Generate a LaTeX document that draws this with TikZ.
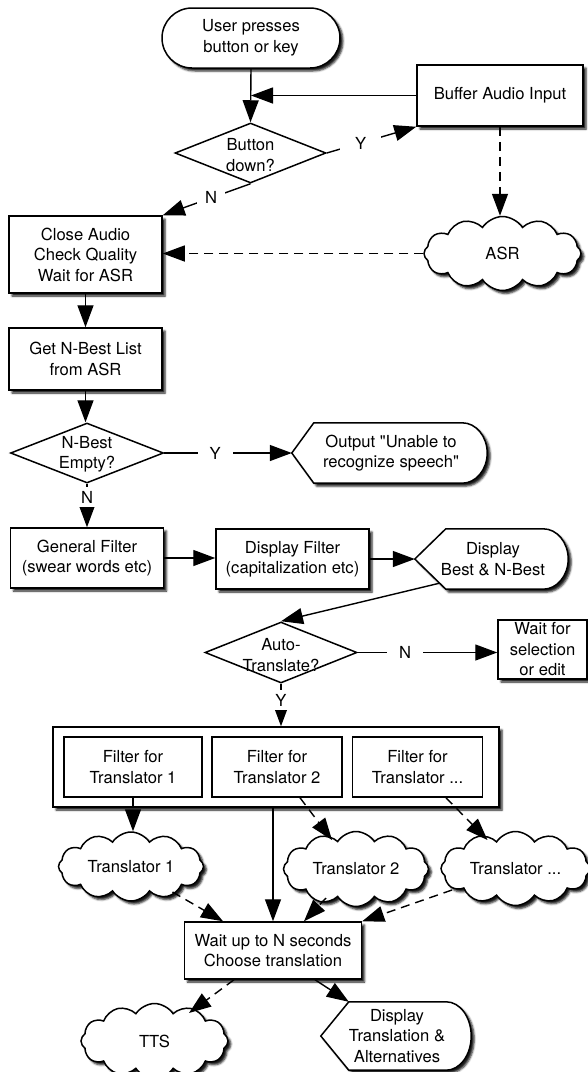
\documentclass[tikz,border=0pt]{standalone}
\usepackage{fontspec}
\setmainfont{TeX Gyre Heros}[Ligatures=TeXOff]
\usetikzlibrary{shapes.geometric,shapes.misc,shapes.symbols,arrows.meta,calc,shadows.blur}
\newcommand\fs{\fontsize{16.6}{20.5}\selectfont}
\newcommand\dispshape[3]{%
  \path[outl] let \p1=(#1.north), \p2=(#1.south), \n1={(\y1-\y2)/2} in
   (#1.west) -- ([xshift=#2]#1.north west) -- ([xshift=-#3]#1.north east)
   arc[start angle=90,end angle=-90,x radius=#3,y radius=\n1]
   -- ([xshift=#2]#1.south west) -- cycle;}
\begin{document}
\begin{tikzpicture}[x=1pt,y=1pt,
  sh/.style={blur shadow={shadow xshift=3pt,shadow yshift=-3pt,shadow blur radius=2pt,shadow opacity=90}},
  box/.style={rectangle,draw,fill=white,line width=1.5pt,inner sep=0pt,align=center,font=\fs,sh},
  ibox/.style={rectangle,draw,fill=white,line width=1.5pt,inner sep=0pt,align=center,font=\fs},
  dia/.style={diamond,draw,fill=white,line width=1.5pt,inner sep=0pt},
  cld/.style={cloud,cloud puffs=12,cloud puff arc=115,cloud ignores aspect,draw,fill=white,line width=1.5pt,inner sep=0pt,sh},
  term/.style={rounded rectangle,draw,fill=white,line width=1.5pt,inner sep=0pt,align=center,font=\fs,sh},
  frame/.style={rectangle,inner sep=0pt},
  outl/.style={draw,fill=white,line width=1.5pt,line join=miter,sh},
  txt/.style={align=center,font=\fs,inner sep=0pt},
  lbl/.style={fill=white,font=\fs,inner xsep=12pt,inner ysep=4pt},
  arr/.style={-{Triangle[length=22pt,width=16pt,fill=black]},line width=1.4pt},
  darr/.style={arr,dash pattern=on 9pt off 6pt},
]
\path[use as bounding box] (0,0) rectangle (588,-1072);

% ---- top
\node[term,minimum width=178pt,minimum height=60pt] (start) at (251,-38) {User presses\\button or key};
\node[box,minimum width=166pt,minimum height=61pt] (buffer) at (500,-95.5) {Buffer Audio Input};
\node[dia,minimum width=151pt,minimum height=60pt] (bd) at (250.5,-153) {};
\node[txt] (bdt) at (250.5,-155) {Button\\down?};
\node[box,minimum width=153pt,minimum height=77pt] (close) at (85.5,-254.5) {Close Audio\\Check Quality\\Wait for ASR};
\node[cld,minimum width=157pt,minimum height=74pt] (asr) at (502.5,-253.5) {};
\node[txt] (asrt) at (asr) {ASR};
\node[box,minimum width=153pt,minimum height=62pt] (getnb) at (85.5,-359) {Get N-Best List\\from ASR};

% ---- N-best
\node[dia,minimum width=153pt,minimum height=60pt] (nbe) at (87,-453) {};
\node[txt] (nbet) at (87,-454) {N-Best\\Empty?};
\node[frame,minimum width=195pt,minimum height=60pt] (out) at (389.5,-453) {};
\dispshape{out}{22pt}{25pt}
\node[txt] (outt) at (391,-453) {Output "Unable to\\recognize speech"};

% ---- filters
\node[box,minimum width=153pt,minimum height=60pt] (gf) at (87,-558) {General Filter\\(swear words etc)};
\node[box,minimum width=153pt,minimum height=60pt] (df) at (292.5,-559) {Display Filter\\(capitalization etc)};
\node[frame,minimum width=153pt,minimum height=60pt] (db) at (491.5,-559) {};
\dispshape{db}{31pt}{25pt}
\node[txt] (dbt) at (493,-559) {Display\\Best \& N-Best};

% ---- auto translate
\node[dia,minimum width=152pt,minimum height=61pt] (at) at (281,-652.5) {};
\node[txt] (att) at (281,-655) {Auto-\\Translate?};
\node[box,minimum width=89pt,minimum height=59pt] (ws) at (542.5,-649.5) {Wait for\\selection\\or edit};

% ---- translator filters
\node[box,minimum width=446pt,minimum height=80pt] (cont) at (276,-767) {};
\node[ibox,minimum width=138pt,minimum height=60pt] (ft1) at (133,-767) {Filter for\\Translator 1};
\node[ibox,minimum width=130pt,minimum height=60pt] (ft2) at (277,-767) {Filter for\\Translator 2};
\node[ibox,minimum width=130pt,minimum height=60pt] (ft3) at (417.5,-767) {Filter for\\Translator ...};

\node[cld,minimum width=145pt,minimum height=69pt] (c1) at (131,-866.5) {};
\node[txt] (c1t) at (c1) {Translator 1};
\node[cld,minimum width=145pt,minimum height=75pt] (c2) at (356,-869) {};
\node[txt] (c2t) at (c2) {Translator 2};
\node[cld,minimum width=149pt,minimum height=74pt] (c3) at (515.5,-868.5) {};
\node[txt] (c3t) at (c3) {Translator ...};

\node[box,minimum width=177pt,minimum height=57pt] (wt) at (273,-950.5) {Wait up to N seconds\\Choose translation};
\node[cld,minimum width=147pt,minimum height=75pt] (tts) at (154.5,-1041) {};
\node[txt] (ttst) at (tts) {TTS};
\node[frame,minimum width=150pt,minimum height=68pt] (dt) at (396,-1036) {};
\dispshape{dt}{28pt}{25pt}
\node[txt] (dtt) at (397,-1036) {Display\\Translation \&\\Alternatives};

% ---- connectors
\draw[arr] (start.south) -- (bd.north);
\draw[arr] (buffer.west) -- (start.south |- buffer.west);
\draw[arr] (bd.east) -- node[lbl,pos=0.38,inner xsep=15pt]{Y} (buffer.south west);
\draw[arr] (bd.south) -- node[lbl,pos=0.45,inner xsep=8pt]{N} (close.north east);
\draw[darr] (buffer.south) -- (buffer.south |- asr.north);
\draw[darr] (asr.west) -- (asr.west -| close.east);
\draw[arr] (close.south) -- (getnb.north);
\draw[arr] (getnb.south) -- (getnb.south |- nbe.north);
\draw[arr] (nbe.east) -- node[lbl,pos=0.4]{Y} (out.west);
\draw[arr] (nbe.south) -- node[lbl,pos=0.31]{N} (gf.north);
\draw[arr] (gf.east) -- (gf.east -| df.west);
\draw[arr] (df.east) -- (df.east -| db.west);
\draw[arr] ($(db.west)!0.8!([xshift=31pt]db.south west)$) -- (at.north);
\draw[arr] (at.east) -- node[lbl,pos=0.34]{N} (at.east -| ws.west);
\draw[arr] (at.south) -- node[lbl,pos=0.39]{Y} (at.south |- cont.north);
\draw[darr] (ft1.south) -- (ft1.south |- c1.north);
\draw[darr] ([xshift=23pt]ft2.south) -- ($(c2.center)+(-24,29)$);
\draw[darr] ([xshift=28.5pt]ft3.south) -- ($(c3.center)+(-28,28.5)$);
\draw[arr] (wt.north |- cont.south) -- (wt.north);
\draw[darr] ($(c1.center)+(41.5,-25.5)$) -- ([xshift=-50pt]wt.north);
\draw[darr] ($(c2.center)+(-30,-29)$) -- ([xshift=31pt]wt.north);
\draw[darr] ($(c3.center)+(-63.5,-21.5)$) -- (wt.north east);
\draw[darr] ([xshift=-39pt]wt.south) -- ($(tts.center)+(34.5,28)$);
\draw[arr] ([xshift=42pt]wt.south) -- ([xshift=28pt]dt.north west);
\end{tikzpicture}
\end{document}
